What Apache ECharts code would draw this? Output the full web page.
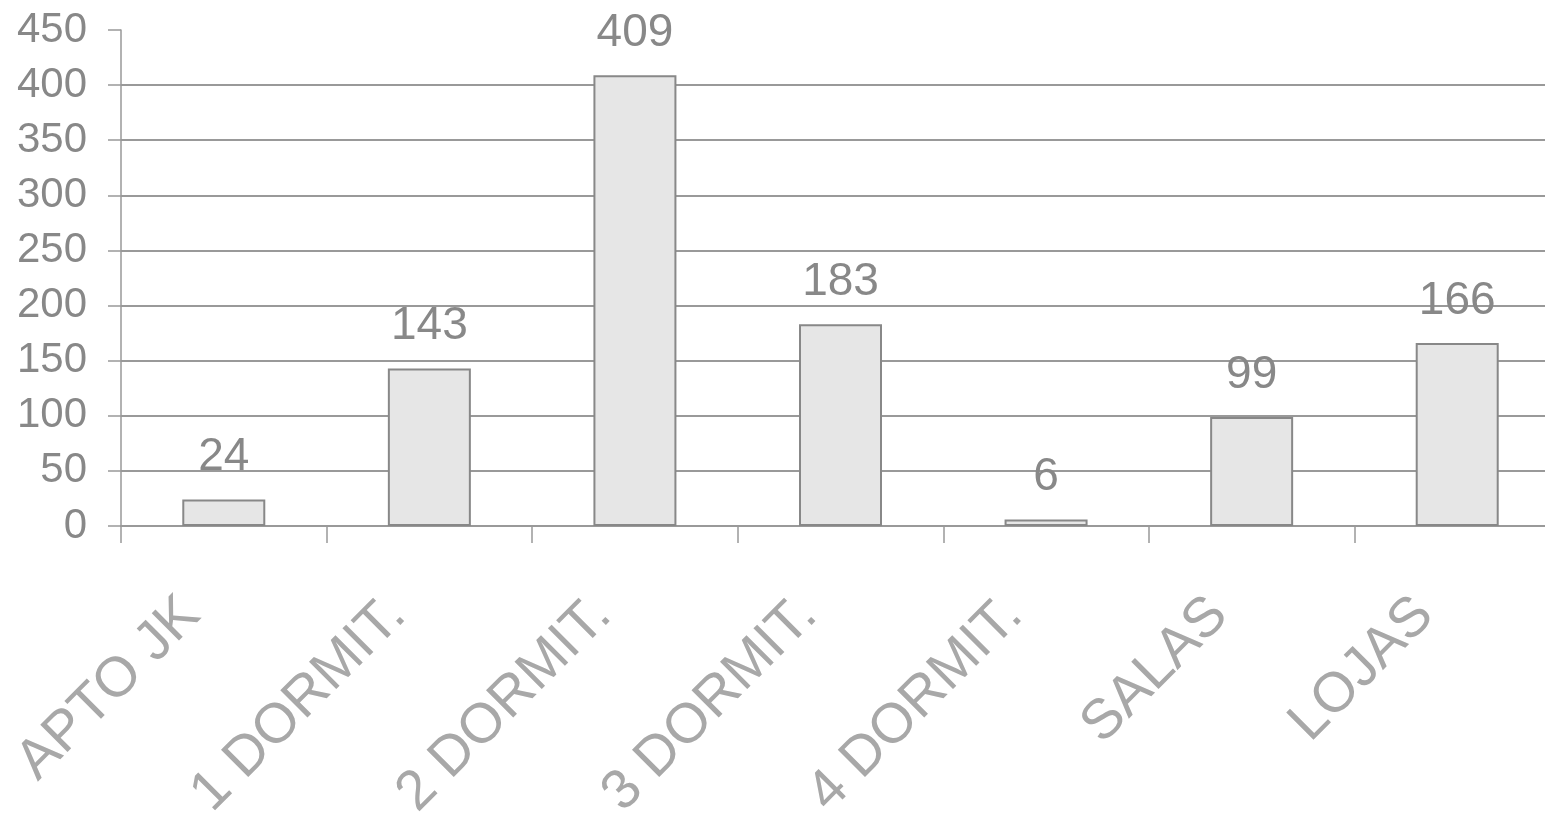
<!DOCTYPE html>
<html><head><meta charset="utf-8">
<script src="https://cdn.jsdelivr.net/npm/echarts@6/dist/echarts.min.js"></script>
<style>html,body{margin:0;padding:0;background:#fff}#c{width:1545px;height:819px}</style>
</head><body><div id="c"></div>
<script>
const categories = ['APTO JK', '1 DORMIT.', '2 DORMIT.', '3 DORMIT.', '4 DORMIT.', 'SALAS', 'LOJAS'];
const values = [24, 143, 409, 183, 6, 99, 166];
const yMin = 0, yMax = 450, yStep = 50;

const chart = echarts.init(document.getElementById('c'), null, {renderer: 'canvas'});
const gray = '#999';
chart.setOption({
  animation: false,
  backgroundColor: '#fff',
  textStyle: {fontFamily: '"Liberation Sans", Arial, sans-serif'},
  grid: {left: 121, top: 30, width: 1439, bottom: 293, containLabel: false, outerBoundsMode: 'none'},
  xAxis: {
    type: 'category', data: categories, boundaryGap: true,
    axisLine: {show: true, lineStyle: {color: gray, width: 2}},
    axisTick: {show: true, length: 17, alignWithLabel: false, lineStyle: {color: gray, width: 1.5}},
    axisLabel: {
      rotate: 45, interval: 0, margin: 48, fontSize: 56, padding: [0, 46, 0, 0],
      fontFamily: '"Liberation Sans", Arial, sans-serif',
      color: '#a8a8a8'
    }
  },
  yAxis: {
    type: 'value', min: yMin, max: yMax, interval: yStep,
    axisLine: {show: true, lineStyle: {color: gray, width: 1.5}},
    axisTick: {show: true, inside: false, length: 13, lineStyle: {color: gray, width: 1.5}},
    axisLabel: {margin: 34, fontSize: 42, color: '#888', fontFamily: '"Liberation Sans", Arial, sans-serif'},
    splitLine: {show: true, showMaxLine: false, lineStyle: {color: gray, width: 2}}
  },
  series: [{
    type: 'bar', data: values, barWidth: 83,
    itemStyle: {color: '#e6e6e6', borderColor: '#888', borderWidth: 2},
    label: {show: true, position: 'top', distance: 19, fontSize: 46, color: '#888',
      fontFamily: '"Liberation Sans", Arial, sans-serif'}
  }]
});
</script></body></html>
